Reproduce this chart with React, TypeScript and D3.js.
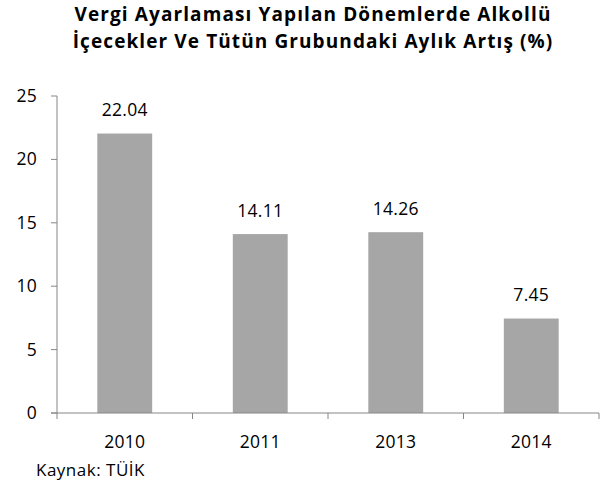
import React from "react";
import * as d3 from "d3";

const categories = ["2010", "2011", "2013", "2014"];
const values = [22.04, 14.11, 14.26, 7.45];
const yTicks = [0, 5, 10, 15, 20, 25];
const titleLines = [
  "Vergi Ayarlaması Yapılan Dönemlerde Alkollü",
  "İçecekler Ve Tütün Grubundaki Aylık Artış (%)",
];
const sourceText = "Kaynak: TÜİK";

export default function App() {
  const W = 609, H = 490;
  const left = 57, right = 599, top = 96, bottom = 413;
  const x = d3.scaleBand<string>().domain(categories).range([left, right]).paddingInner(0.595).paddingOuter(0.2975);
  const y = d3.scaleLinear().domain([0, 25]).range([bottom, top]);
  const step = x.step();
  const font = "'Open Sans', sans-serif";
  const axisColor = "#868686";
  return (
    <svg width={W} height={H} style={{ position: "absolute", left: 0, top: 0 }} fontFamily={font}>
      <rect width={W} height={H} fill="#fff" />
      {titleLines.map((t, i) => (
        <text key={i} x={313} y={21 + i * 27} textAnchor="middle" fontSize={19} fontWeight="bold" letterSpacing={1.1} fill="#000">{t}</text>
      ))}
      {categories.map((c, i) => (
        <g key={c}>
          <rect x={x(c)} y={y(values[i])} width={x.bandwidth()} height={bottom - y(values[i])} fill="#a6a6a6" />
          <text x={x(c)! + x.bandwidth() / 2} y={y(values[i]) - 17.5} textAnchor="middle" fontSize={17.5} letterSpacing={0.3} fill="#000">{values[i].toFixed(2)}</text>
          <text x={x(c)! + x.bandwidth() / 2} y={448} textAnchor="middle" fontSize={17.5} letterSpacing={0.3} fill="#000">{c}</text>
        </g>
      ))}
      <line x1={left} x2={left} y1={top} y2={bottom} stroke={axisColor} strokeWidth={1} />
      {yTicks.map((t) => (
        <g key={t}>
          <line x1={left - 6} x2={left} y1={y(t)} y2={y(t)} stroke={axisColor} />
          <text x={37} y={y(t) + 6} textAnchor="end" fontSize={17.5} letterSpacing={0.3} fill="#000">{t}</text>
        </g>
      ))}
      <line x1={left - 6} x2={right} y1={bottom} y2={bottom} stroke={axisColor} />
      {d3.range(categories.length + 1).map((i) => (
        <line key={i} x1={left + i * step} x2={left + i * step} y1={bottom} y2={bottom + 6} stroke={axisColor} />
      ))}
      <text x={36} y={476} fontSize={17} letterSpacing={0.5} fill="#000">{sourceText}</text>
    </svg>
  );
}
